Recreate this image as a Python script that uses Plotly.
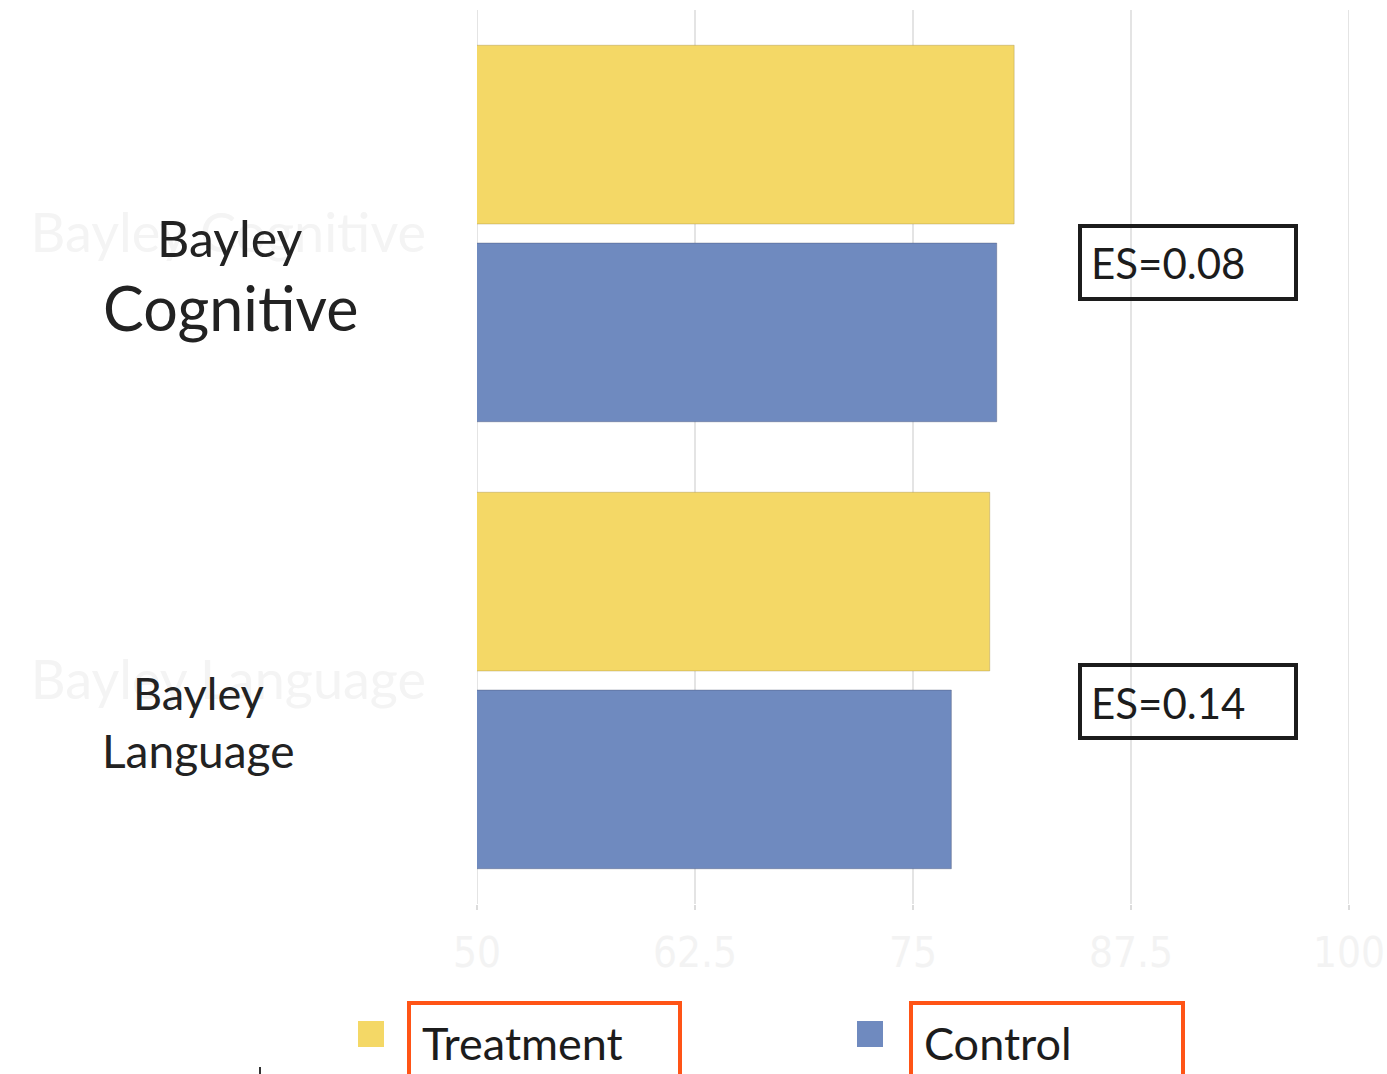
import plotly.graph_objects as go

# Outcome measures and mean scores per group
measures = ["Bayley Cognitive", "Bayley Language"]
measure_lines = [("Bayley", "Cognitive"), ("Bayley", "Language")]
treatment_scores = [80.8, 79.4]
control_scores = [79.8, 77.2]
effect_sizes = ["ES=0.08", "ES=0.14"]
x_ticks = [50, 62.5, 75, 87.5, 100]
x_tick_text = ["50", "62.5", "75", "87.5", "100"]

YELLOW = "#F4D866"
BLUE = "#6F8ABF"
ORANGE = "#FF5416"
GRID = "#e4e4e4"
FONT = "Lato"

W, H = 1387, 1074
L, R, T, B = 477, 38, 10, 170
PW, PH = W - L - R, H - T - B


def xp(px):
    return (px - L) / PW


def yp(py):
    return (H - B - py) / PH


fig = go.Figure()
fig.add_trace(go.Bar(
    name="Treatment", y=measures, x=treatment_scores, orientation="h",
    marker=dict(color=YELLOW, line=dict(color="rgba(150,130,60,0.35)", width=1)),
    showlegend=False,
))
fig.add_trace(go.Bar(
    name="Control", y=measures, x=control_scores, orientation="h",
    marker=dict(color=BLUE, line=dict(color="rgba(60,70,100,0.35)", width=1)),
    showlegend=False,
))

fig.update_layout(
    width=W, height=H,
    margin=dict(l=L, r=R, t=T, b=B),
    paper_bgcolor="white", plot_bgcolor="white",
    barmode="group", bargap=0.115, bargroupgap=0.0965,
    font=dict(family=FONT),
    xaxis=dict(
        range=[50, 100], tickvals=x_ticks, ticktext=x_tick_text,
        showgrid=True, gridcolor=GRID, gridwidth=2,
        zeroline=False, showline=False, automargin=False,
        ticks="outside", ticklen=5, tickcolor="#dcdcdc", tickwidth=2,
        ticklabelstandoff=7, ticklabeloverflow="allow",
        tickfont=dict(family="DejaVu Sans Condensed", size=42, color="#f3f3f3"),
    ),
    yaxis=dict(
        autorange="reversed", showgrid=False, zeroline=False, showline=False,
        ticks="", ticklabelstandoff=50, automargin=False,
        tickfont=dict(family=FONT, size=54, color="#f4f4f4"),
    ),
)

annotations = []
shapes = []

# Grid lines at both ends of the value range
for v in (50, 100):
    shapes.append(dict(type="line", xref="x", yref="paper", x0=v, x1=v, y0=0, y1=1,
                       layer="below", line=dict(color=GRID, width=2)))

# Dark labels drawn over the faint axis labels
label_specs = [
    (230, 238, 50, 307, 61),
    (198, 693, 45, 750, 46),
]
for (first, second), (cx, y1, s1, y2, s2) in zip(measure_lines, label_specs):
    annotations.append(dict(text=first, x=xp(cx), y=yp(y1), xref="paper", yref="paper",
                            xanchor="center", yanchor="middle", showarrow=False,
                            font=dict(family=FONT, size=s1, color="#222222")))
    annotations.append(dict(text=second, x=xp(cx), y=yp(y2), xref="paper", yref="paper",
                            xanchor="center", yanchor="middle", showarrow=False,
                            font=dict(family=FONT, size=s2, color="#222222")))

# Effect size boxes
for es, (top, bottom) in zip(effect_sizes, [(226, 299), (665, 738)]):
    shapes.append(dict(type="rect", xref="paper", yref="paper",
                       x0=xp(1080), x1=xp(1296), y0=yp(bottom), y1=yp(top),
                       line=dict(color="#1c1c1c", width=4), fillcolor="rgba(0,0,0,0)"))
    annotations.append(dict(text=es, x=xp(1089), y=yp((top + bottom) / 2 + 1),
                            xref="paper", yref="paper", xanchor="left", yanchor="middle",
                            showarrow=False,
                            font=dict(family=FONT, size=42, color="#1c1c1c")))

# Legend drawn below the plot
legend_items = [("Treatment", YELLOW, 358, 409, 680, 420), ("Control", BLUE, 857, 911, 1183, 922)]
for name, color, sq_x, bx0, bx1, tx in legend_items:
    shapes.append(dict(type="rect", xref="paper", yref="paper",
                       x0=xp(sq_x), x1=xp(sq_x + 26), y0=yp(1047), y1=yp(1021),
                       line=dict(width=0), fillcolor=color))
    shapes.append(dict(type="rect", xref="paper", yref="paper",
                       x0=xp(bx0), x1=xp(bx1), y0=yp(1090), y1=yp(1003),
                       line=dict(color=ORANGE, width=4), fillcolor="rgba(0,0,0,0)"))
    annotations.append(dict(text=name, x=xp(tx), y=yp(1043), xref="paper", yref="paper",
                            xanchor="left", yanchor="middle", showarrow=False,
                            font=dict(family=FONT, size=45, color="#1c1c1c")))

shapes.append(dict(type="line", xref="paper", yref="paper",
                   x0=xp(260), x1=xp(260), y0=yp(1074), y1=yp(1067),
                   line=dict(color="#333333", width=2)))

fig.update_layout(annotations=annotations, shapes=shapes)
fig.write_html("out.html")
